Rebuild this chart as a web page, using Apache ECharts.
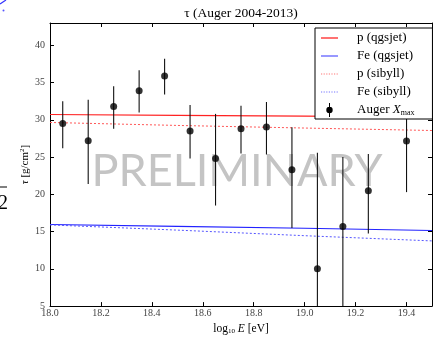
<!DOCTYPE html>
<html>
<head>
<meta charset="utf-8">
<script src="https://cdn.jsdelivr.net/npm/echarts@6/dist/echarts.min.js"></script>
<style>html,body{margin:0;padding:0;background:#fff}#c{width:437px;height:340px}</style>
</head>
<body>
<div id="c"></div>
<script>
// Auger data points: log10 E, tau, lower and upper error-bar ends
const augerX = [18.05, 18.15, 18.25, 18.35, 18.45, 18.55, 18.65, 18.75, 18.85, 18.95, 19.05, 19.15, 19.25, 19.4];
const augerY = [29.5, 27.2, 31.8, 33.9, 35.9, 28.5, 24.8, 28.8, 29.05, 23.3, 10.0, 15.7, 20.5, 27.15];
const augerLo = [26.2, 21.4, 28.8, 31.0, 33.4, 24.8, 18.5, 25.5, 25.35, 15.5, -5.0, 3.0, 14.75, 20.3];
const augerHi = [32.5, 32.7, 34.5, 36.65, 38.2, 32.0, 30.8, 31.9, 32.4, 29.0, 25.6, 25.0, 25.4, 34.0];

// model predictions
const modelX = [18.0, 18.5, 19.0, 19.5];
const pQgsjet = [30.72, 30.6, 30.5, 30.38];
const feQgsjet = [15.95, 15.7, 15.45, 15.15];
const pSibyll = [29.65, 29.25, 28.9, 28.57];
const feSibyll = [15.9, 15.2, 14.45, 13.75];

const xTicks = [18.0, 18.2, 18.4, 18.6, 18.8, 19.0, 19.2, 19.4];
const yTicks = [5, 10, 15, 20, 25, 30, 35, 40];

const serif = "'Liberation Serif', 'DejaVu Serif', serif";
const zip = (a, b) => a.map((v, i) => [v, b[i]]);

// legend icon paths (tiny corner squares fix the bounding box to 17x14)
const corners = 'M0,0H0.01V0.01H0Z M17,14H16.99V13.99H17Z ';
const solidIcon = 'path://' + corners + 'M0,6.3H17V7.7H0Z';
let dots = '';
for (let x = 0; x < 17; x += 2.6) dots += 'M' + x + ',6.5H' + (x + 1.2) + 'V7.5H' + x + 'Z ';
const dottedIcon = 'path://' + corners + dots;
const augerIcon = 'path://' + corners + 'M8,0H9V14H8Z M8.5,3.8A3.2,3.2 0 1 1 8.49,3.8Z';

const chart = echarts.init(document.getElementById('c'), null, {renderer: 'canvas'});

const axisCommon = {
  axisLine: {show: true, lineStyle: {color: '#000', width: 1}},
  axisTick: {show: true, inside: true, length: 4, lineStyle: {color: '#000'}},
  splitLine: {show: false}
};

const augerName = 'Auger Xmax';
const noBorder = {borderWidth: 0, borderColor: 'transparent'};

chart.setOption({
  animation: false,
  grid: {left: 50, right: 5, top: 23, bottom: 22},
  xAxis: [
    Object.assign({}, axisCommon, {
      type: 'value', min: 18.0, max: 19.5, interval: 0.2, position: 'bottom',
      axisLabel: {
        showMaxLabel: false, margin: 2, fontFamily: serif, fontSize: 10, color: '#444',
        formatter: v => xTicks.some(t => Math.abs(t - v) < 1e-6) ? v.toFixed(1) : ''
      },
      name: 'log{s|10} {i|E} [eV]', nameLocation: 'middle', nameGap: 16,
      nameTextStyle: {fontFamily: serif, fontSize: 11.5, color: '#000',
        rich: {s: {fontFamily: serif, fontSize: 7, padding: [5, 0, 0, 0]}, i: {fontFamily: serif, fontStyle: 'italic', fontSize: 11.5}}}
    }),
    Object.assign({}, axisCommon, {
      type: 'value', min: 18.0, max: 19.5, interval: 0.2, position: 'top',
      axisLabel: {show: false}
    })
  ],
  yAxis: [
    Object.assign({}, axisCommon, {
      type: 'value', min: 5, max: 43, interval: 5, position: 'left',
      axisLabel: {
        showMaxLabel: false, margin: 5, fontFamily: serif, fontSize: 10, color: '#444',
        formatter: v => yTicks.indexOf(v) >= 0 ? String(v) : ''
      },
      name: '{i|τ} [g/cm{u|2}]', nameLocation: 'middle', nameGap: 19, nameRotate: 90,
      nameMoveOverlap: false,
      nameTextStyle: {fontFamily: serif, fontSize: 11, color: '#000',
        rich: {i: {fontFamily: serif, fontStyle: 'italic', fontSize: 11}, u: {fontFamily: serif, fontSize: 7, padding: [0, 0, 5, 0]}}}
    }),
    Object.assign({}, axisCommon, {
      type: 'value', min: 5, max: 43, interval: 5, position: 'right',
      axisLabel: {show: false}
    })
  ],
  legend: {
    orient: 'vertical', left: 315, top: 28,
    padding: [3, 18, 2, 6], itemGap: 4, itemWidth: 17, itemHeight: 14,
    borderColor: '#000', borderWidth: 1, backgroundColor: '#fff', borderRadius: 0,
    z: 10,
    data: [
      {name: 'p (qgsjet)', icon: solidIcon, itemStyle: Object.assign({color: '#ff4444'}, noBorder)},
      {name: 'Fe (qgsjet)', icon: solidIcon, itemStyle: Object.assign({color: '#7777ff'}, noBorder)},
      {name: 'p (sibyll)', icon: dottedIcon, itemStyle: Object.assign({color: '#ff7777'}, noBorder)},
      {name: 'Fe (sibyll)', icon: dottedIcon, itemStyle: Object.assign({color: '#7777ff'}, noBorder)},
      {name: augerName, icon: augerIcon, itemStyle: Object.assign({color: '#000'}, noBorder)}
    ],
    formatter: n => n === augerName ? '{g| }Auger {i|X}{s|max}' : '{g| }' + n,
    textStyle: {
      fontFamily: serif, fontSize: 13, color: '#000',
      rich: {
        g: {width: 14},
        i: {fontFamily: serif, fontStyle: 'italic', fontSize: 13},
        s: {fontFamily: serif, fontSize: 8, padding: [6, 0, 0, 0]}
      }
    }
  },
  graphic: [
    {type: 'text', z: 0, x: 237, y: 171, style: {
      text: 'PRELIMINARY', textAlign: 'center', textVerticalAlign: 'middle',
      font: '45px Lato, "Open Sans", sans-serif', fill: '#c4c4c4'}},
    {type: 'text', z: 5, x: 241, y: 13, style: {text: 'τ (Auger 2004-2013)', textAlign: 'center', textVerticalAlign: 'middle',
      font: '13.5px ' + serif, fill: '#000'}},
    {type: 'text', z: 5, x: 3, y: 204, style: {text: '2', font: '20px ' + serif, fill: '#000', textAlign: 'center', textVerticalAlign: 'middle'}},
    {type: 'line', z: 5, shape: {x1: 0, y1: 187, x2: 7, y2: 187}, style: {stroke: '#000', lineWidth: 1}},
    {type: 'line', z: 5, shape: {x1: 0, y1: 4, x2: 6, y2: 0}, style: {stroke: '#3333ff', lineWidth: 1.2}},
    {type: 'circle', z: 5, shape: {cx: 3.5, cy: 10.5, r: 1}, style: {fill: '#5555ff'}}
  ],
  series: [
    {name: 'p (qgsjet)', type: 'line', data: zip(modelX, pQgsjet), symbol: 'none', z: 3,
      lineStyle: {color: '#ff2222', width: 1.2}, itemStyle: {color: '#ff2222'}},
    {name: 'Fe (qgsjet)', type: 'line', data: zip(modelX, feQgsjet), symbol: 'none', z: 3,
      lineStyle: {color: '#2222ff', width: 1.2}, itemStyle: {color: '#2222ff'}},
    {name: 'p (sibyll)', type: 'line', data: zip(modelX, pSibyll), symbol: 'none', z: 3,
      lineStyle: {color: '#ff5555', width: 1, type: [2, 2]}, itemStyle: {color: '#ff5555'}},
    {name: 'Fe (sibyll)', type: 'line', data: zip(modelX, feSibyll), symbol: 'none', z: 3,
      lineStyle: {color: '#5555ff', width: 1, type: [2, 2]}, itemStyle: {color: '#5555ff'}},
    {name: augerName, type: 'custom', z: 4,
      data: augerX.map((x, i) => [x, augerLo[i], augerHi[i]]),
      renderItem: (params, api) => {
        const cs = params.coordSys;
        const top = api.coord([api.value(0), api.value(2)]);
        const bot = api.coord([api.value(0), api.value(1)]);
        const clamp = y => Math.max(cs.y, Math.min(cs.y + cs.height, y));
        return {type: 'line', shape: {x1: top[0], y1: clamp(top[1]), x2: bot[0], y2: clamp(bot[1])},
          style: {stroke: '#111', lineWidth: 1.1}};
      },
      itemStyle: {color: '#000'}
    },
    {name: augerName, type: 'scatter', z: 5, data: zip(augerX, augerY), symbol: 'circle', symbolSize: 7,
      itemStyle: {color: '#000'}}
  ]
});
</script>
</body>
</html>
